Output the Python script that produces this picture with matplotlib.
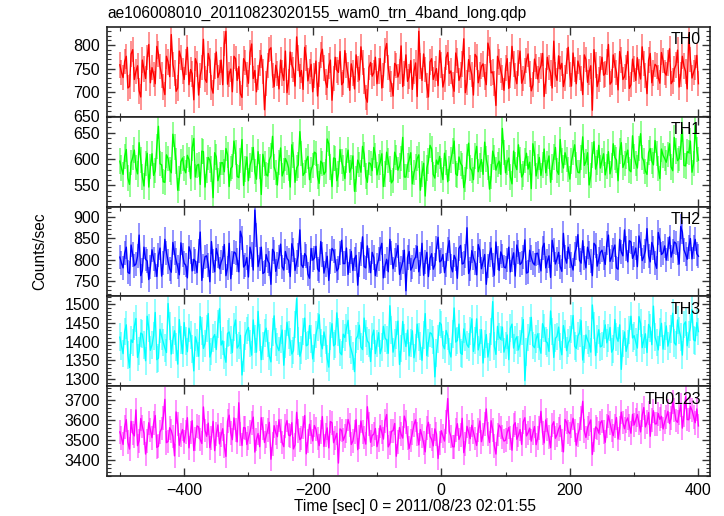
import numpy as np
import matplotlib
matplotlib.use("Agg")
import matplotlib.pyplot as plt
from matplotlib.ticker import MultipleLocator

plt.rcParams['font.family'] = ['Liberation Sans', 'DejaVu Sans']

# time bins: main points every 5 s from -500 to 400, "mid" points halfway between
t0 = -500.0
dt = 5.0

th0 = [758, 731, 776, 712, 790, 744, 703, 768, 729, 801,
       752, 718, 781, 736, 695, 764, 822, 741, 709, 773,
       727, 795, 748, 684, 760, 735, 812, 721, 767, 698,
       785, 742, 716, 829, 738, 701, 771, 754, 689, 763,
       719, 802, 746, 731, 778, 663, 757, 794, 712, 740,
       768, 725, 699, 785, 748, 817, 733, 706, 772, 744,
       701, 766, 738, 791, 722, 755, 683, 774, 742, 716,
       788, 736, 760, 707, 749, 796, 724, 679, 763, 741,
       718, 771, 735, 803, 728, 692, 757, 744, 712, 779,
       733, 706, 762, 829, 725, 748, 690, 771, 739, 714,
       758, 727, 784, 745, 702, 767, 736, 813, 721, 752,
       694, 775, 738, 760, 716, 789, 743, 672, 764, 731,
       751, 708, 797, 734, 762, 719, 745, 781, 703, 770,
       728, 756, 691, 774, 741, 808, 725, 749, 712, 766,
       737, 783, 718, 752, 695, 769, 743, 662, 758, 727,
       774, 739, 801, 722, 757, 705, 768, 733, 786, 716,
       749, 773, 728, 761, 697, 782, 741, 755, 719, 767,
       736, 792, 724, 758, 711, 776, 744, 823, 730, 752,
       718]
th0_mid = [742, 765, 709, 781, 727, 756, 690, 749, 773, 720,
           738, 797, 754, 711, 776, 733, 759, 702, 787, 745,
           764, 716, 739, 771, 694, 752, 728, 782, 710, 756,
           731, 768, 803, 717, 749, 776, 725, 697, 771, 738,
           784, 729, 701, 762, 744, 718, 790, 735, 757, 707,
           741, 787, 722, 758, 713, 772, 746, 795, 724, 759,
           735, 692, 779, 751, 710, 768, 729, 747, 786, 721,
           757, 704, 741, 779, 726, 763, 689, 752, 734, 774,
           745, 709, 788, 752, 717, 761, 732, 798, 740, 723,
           767, 744, 691, 756, 781, 714, 764, 727, 750, 788,
           711, 773, 740, 716, 783, 725, 760, 699, 769, 737,
           780, 720, 755, 732, 804, 741, 718, 776, 746, 704,
           771, 736, 760, 718, 787, 729, 767, 739, 716, 754,
           747, 782, 724, 752, 709, 738, 777, 761, 730, 795,
           713, 748, 766, 729, 779, 721, 756, 790, 712, 749,
           736, 764, 717, 779, 742, 786, 727, 752, 708, 770,
           725, 744, 796, 735, 768, 720, 759, 731, 784, 742,
           762, 718, 749, 789, 737, 755, 707, 769, 742, 778]

th1 = [596, 571, 618, 552, 603, 584, 631, 566, 592, 547,
       610, 578, 662, 589, 556, 601, 574, 623, 541, 595,
       582, 607, 563, 639, 588, 552, 614, 579, 598, 527,
       604, 571, 593, 620, 548, 586, 612, 565, 637, 581,
       559, 599, 576, 614, 533, 592, 568, 606, 585, 551,
       621, 578, 594, 547, 608, 583, 652, 569, 597, 561,
       588, 611, 554, 592, 576, 629, 548, 601, 572, 595,
       563, 617, 584, 539, 598, 575, 609, 556, 591, 622,
       570, 594, 548, 613, 581, 560, 603, 587, 641, 566,
       599, 553, 585, 608, 572, 530, 596, 619, 564, 590,
       578, 611, 557, 598, 634, 569, 592, 546, 605, 583,
       561, 624, 588, 571, 600, 543, 615, 579, 596, 658,
       574, 602, 553, 589, 627, 566, 597, 581, 544, 610,
       586, 569, 619, 592, 556, 604, 578, 637, 583, 599,
       562, 612, 589, 574, 642, 595, 551, 608, 581, 626,
       597, 570, 614, 588, 603, 559, 631, 592, 617, 576,
       605, 583, 648, 596, 571, 620, 589, 611, 563, 607,
       594, 629, 578, 615, 601, 656, 587, 612, 575, 664,
       598]
th1_mid = [583, 605, 564, 593, 617, 572, 598, 549, 611, 586,
           569, 624, 591, 557, 608, 580, 647, 596, 563, 602,
           574, 599, 621, 566, 590, 615, 547, 603, 581, 612,
           559, 593, 576, 608, 582, 634, 567, 597, 550, 604,
           588, 622, 562, 586, 609, 571, 598, 643, 575, 594,
           568, 601, 583, 627, 556, 589, 611, 574, 605, 579,
           613, 567, 596, 571, 638, 585, 602, 559, 618, 583,
           597, 575, 606, 562, 590, 624, 568, 593, 578, 607,
           585, 610, 572, 597, 555, 613, 579, 601, 566, 588,
           612, 574, 601, 541, 592, 583, 626, 571, 598, 605,
           561, 594, 582, 615, 572, 604, 587, 561, 630, 578,
           606, 576, 599, 632, 584, 567, 603, 590, 571, 612,
           593, 566, 615, 580, 598, 572, 611, 594, 629, 568,
           603, 589, 574, 606, 585, 622, 571, 597, 612, 580,
           596, 627, 575, 603, 588, 612, 569, 633, 594, 583,
           610, 586, 572, 629, 598, 615, 584, 606, 579, 644,
           592, 620, 603, 577, 612, 596, 635, 582, 619, 601,
           609, 585, 641, 597, 623, 588, 614, 634, 592, 618]

th2 = [806, 781, 829, 768, 812, 790, 857, 775, 801, 754,
       823, 788, 810, 762, 847, 796, 771, 815, 783, 839,
       792, 758, 818, 801, 770, 864, 786, 809, 749, 797,
       826, 779, 804, 763, 838, 792, 815, 772, 851, 788,
       760, 812, 915, 784, 829, 771, 798, 743, 817, 790,
       836, 776, 803, 761, 822, 794, 869, 782, 808, 757,
       799, 831, 773, 812, 789, 752, 826, 797, 780, 845,
       791, 766, 819, 802, 741, 813, 784, 832, 770, 805,
       787, 824, 758, 801, 847, 779, 810, 766, 795, 728,
       819, 783, 806, 772, 838, 795, 761, 814, 788, 852,
       798, 770, 825, 785, 810, 757, 833, 792, 874, 779,
       804, 765, 821, 796, 743, 812, 787, 841, 775, 808,
       781, 829, 799, 762, 817, 793, 846, 771, 805, 788,
       815, 774, 838, 797, 759, 823, 802, 784, 861, 792,
       809, 776, 827, 799, 844, 781, 816, 763, 833, 801,
       822, 789, 857, 806, 834, 778, 818, 869, 795, 841,
       812, 784, 836, 807, 872, 795, 828, 780, 846, 816,
       799, 853, 821, 838, 790, 864, 813, 830, 802, 847,
       808]
th2_mid = [792, 815, 771, 834, 786, 808, 763, 829, 797, 783,
           802, 761, 827, 793, 816, 779, 840, 798, 765, 811,
           787, 830, 774, 796, 821, 752, 807, 788, 842, 772,
           809, 794, 835, 781, 756, 818, 799, 866, 783, 805,
           829, 776, 857, 802, 768, 812, 791, 824, 773, 806,
           784, 819, 798, 837, 775, 810, 788, 814, 767, 826,
           803, 779, 842, 769, 808, 796, 821, 774, 815, 791,
           827, 797, 775, 810, 789, 853, 781, 798, 817, 763,
           801, 838, 786, 772, 815, 799, 833, 781, 822, 805,
           776, 799, 831, 790, 764, 817, 803, 778, 826, 795,
           812, 788, 844, 772, 801, 826, 790, 809, 768, 821,
           793, 835, 779, 812, 786, 827, 764, 803, 818, 783,
           799, 772, 816, 834, 789, 806, 769, 822, 793, 814,
           797, 828, 781, 809, 845, 790, 817, 773, 806, 829,
           789, 814, 858, 792, 803, 829, 797, 838, 785, 817,
           804, 838, 796, 823, 781, 847, 809, 826, 844, 803,
           827, 855, 798, 821, 809, 840, 793, 863, 812, 832,
           824, 806, 841, 816, 877, 823, 801, 849, 829, 814]

th3 = [1412, 1368, 1445, 1331, 1398, 1462, 1375, 1420, 1349, 1437,
       1391, 1478, 1356, 1414, 1383, 1502, 1367, 1429, 1340, 1405,
       1451, 1373, 1418, 1322, 1396, 1467, 1382, 1435, 1359, 1410,
       1379, 1488, 1402, 1345, 1426, 1371, 1458, 1390, 1311, 1416,
       1438, 1364, 1407, 1481, 1352, 1423, 1395, 1346, 1469, 1386,
       1408, 1337, 1452, 1399, 1376, 1515, 1361, 1427, 1389, 1443,
       1354, 1419, 1472, 1381, 1404, 1332, 1448, 1393, 1426, 1365,
       1411, 1457, 1378, 1320, 1415, 1386, 1463, 1402, 1347, 1431,
       1395, 1368, 1441, 1404, 1496, 1372, 1418, 1339, 1454, 1387,
       1362, 1429, 1383, 1412, 1350, 1475, 1397, 1421, 1306, 1408,
       1446, 1381, 1416, 1359, 1490, 1403, 1370, 1434, 1392, 1428,
       1374, 1461, 1398, 1343, 1419, 1385, 1507, 1366, 1413, 1439,
       1390, 1352, 1447, 1405, 1378, 1428, 1296, 1411, 1465, 1384,
       1421, 1369, 1436, 1397, 1482, 1358, 1414, 1387, 1443, 1376,
       1405, 1470, 1382, 1424, 1351, 1418, 1395, 1498, 1363, 1432,
       1389, 1445, 1410, 1372, 1459, 1401, 1326, 1426, 1393, 1468,
       1416, 1383, 1449, 1404, 1371, 1437, 1495, 1398, 1425, 1380,
       1442, 1408, 1476, 1391, 1430, 1364, 1453, 1419, 1486, 1402,
       1427]
th3_mid = [1389, 1427, 1364, 1405, 1441, 1358, 1423, 1392, 1468, 1377,
           1416, 1352, 1433, 1398, 1371, 1442, 1405, 1386, 1459, 1368,
           1402, 1436, 1380, 1413, 1361, 1428, 1395, 1475, 1374, 1419,
           1447, 1391, 1365, 1422, 1404, 1439, 1383, 1417, 1357, 1430,
           1395, 1458, 1372, 1411, 1388, 1436, 1362, 1425, 1399, 1376,
           1431, 1394, 1418, 1367, 1446, 1401, 1378, 1463, 1392, 1408,
           1383, 1440, 1397, 1426, 1355, 1415, 1389, 1477, 1371, 1420,
           1436, 1393, 1361, 1408, 1444, 1379, 1422, 1396, 1414, 1368,
           1424, 1385, 1410, 1369, 1431, 1397, 1455, 1382, 1409, 1431,
           1396, 1357, 1447, 1388, 1418, 1363, 1424, 1405, 1370, 1451,
           1391, 1430, 1374, 1420, 1399, 1447, 1366, 1412, 1385, 1461,
           1403, 1378, 1432, 1394, 1359, 1427, 1388, 1441, 1406, 1372,
           1418, 1436, 1383, 1413, 1395, 1459, 1372, 1429, 1390, 1407,
           1387, 1448, 1401, 1374, 1427, 1409, 1439, 1365, 1420, 1397,
           1433, 1388, 1415, 1456, 1381, 1404, 1372, 1443, 1408, 1386,
           1421, 1397, 1438, 1381, 1412, 1445, 1395, 1374, 1431, 1410,
           1399, 1467, 1384, 1421, 1446, 1392, 1412, 1378, 1449, 1415,
           1388, 1433, 1397, 1458, 1413, 1446, 1389, 1438, 1405, 1451]

th0123 = [3541, 3478, 3602, 3455, 3536, 3651, 3497, 3568, 3430, 3587,
          3512, 3623, 3469, 3558, 3704, 3493, 3547, 3421, 3579, 3526,
          3489, 3612, 3538, 3448, 3571, 3503, 3666, 3519, 3462, 3594,
          3530, 3481, 3557, 3418, 3625, 3502, 3549, 3687, 3473, 3561,
          3509, 3586, 3440, 3533, 3612, 3488, 3551, 3404, 3572, 3517,
          3544, 3467, 3598, 3521, 3456, 3639, 3502, 3563, 3431, 3579,
          3496, 3554, 3472, 3618, 3525, 3461, 3587, 3509, 3385, 3548,
          3520, 3603, 3478, 3541, 3452, 3596, 3513, 3667, 3489, 3530,
          3467, 3572, 3505, 3628, 3483, 3547, 3419, 3563, 3510, 3592,
          3458, 3534, 3602, 3476, 3521, 3441, 3589, 3503, 3556, 3408,
          3547, 3495, 3708, 3518, 3466, 3582, 3524, 3437, 3569, 3507,
          3541, 3473, 3596, 3528, 3656, 3488, 3552, 3430, 3575, 3516,
          3499, 3563, 3449, 3587, 3524, 3478, 3612, 3537, 3495, 3568,
          3510, 3644, 3486, 3553, 3462, 3592, 3527, 3573, 3441, 3588,
          3532, 3609, 3474, 3556, 3694, 3513, 3581, 3428, 3566, 3535,
          3597, 3489, 3622, 3548, 3572, 3505, 3640, 3557, 3611, 3534,
          3576, 3628, 3541, 3663, 3589, 3519, 3647, 3582, 3604, 3556,
          3615, 3583, 3691, 3598, 3634, 3560, 3718, 3602, 3649, 3587,
          3571]
th0123_mid = [3512, 3567, 3489, 3594, 3521, 3472, 3608, 3535, 3496, 3551,
              3584, 3463, 3541, 3609, 3487, 3562, 3518, 3641, 3474, 3553,
              3539, 3461, 3597, 3507, 3566, 3483, 3548, 3585, 3512, 3447,
              3576, 3524, 3468, 3594, 3536, 3611, 3491, 3529, 3563, 3478,
              3541, 3615, 3503, 3467, 3558, 3520, 3589, 3482, 3537, 3602,
              3488, 3569, 3525, 3587, 3476, 3544, 3512, 3623, 3497, 3540,
              3573, 3508, 3542, 3468, 3561, 3593, 3487, 3534, 3556, 3499,
              3547, 3574, 3495, 3602, 3516, 3542, 3480, 3579, 3523, 3558,
              3501, 3539, 3597, 3466, 3544, 3583, 3492, 3529, 3620, 3511,
              3498, 3577, 3530, 3553, 3485, 3562, 3519, 3471, 3531, 3486,
              3521, 3589, 3543, 3467, 3551, 3503, 3609, 3482, 3540, 3574,
              3508, 3551, 3492, 3580, 3530, 3597, 3471, 3528, 3563, 3495,
              3538, 3512, 3574, 3504, 3553, 3592, 3521, 3560, 3534, 3477,
              3562, 3537, 3601, 3514, 3575, 3509, 3556, 3498, 3603, 3542,
              3571, 3548, 3527, 3612, 3546, 3562, 3601, 3502, 3558, 3586,
              3541, 3569, 3586, 3522, 3613, 3559, 3588, 3594, 3573, 3629,
              3601, 3587, 3624, 3566, 3638, 3602, 3581, 3633, 3619, 3592,
              3644, 3610, 3652, 3589, 3676, 3625, 3603, 3668, 3617, 3656]

# typical 1-sigma error per bin for each band
errs = [27, 24, 28, 37, 60]

bands = ["TH0", "TH1", "TH2", "TH3", "TH0123"]
series = [(th0, th0_mid), (th1, th1_mid), (th2, th2_mid), (th3, th3_mid),
          (th0123, th0123_mid)]
colors = ["#ff0000", "#00ff00", "#0000ff", "#00ffff", "#ff00ff"]
ylims = [(648, 838), (510, 680), (715, 923), (1281, 1521), (3320, 3770)]
major = [50, 50, 50, 50, 100]
minor = [10, 10, 10, 10, 20]

fig = plt.figure(figsize=(7.24, 5.16), dpi=100)
left, right = 107 / 724, 710 / 724
top, bottom = 1 - 27 / 516, 1 - 476 / 516
h = (top - bottom) / 5

for i, (name, (ya, yb), c) in enumerate(zip(bands, series, colors)):
    ax = fig.add_axes([left, top - (i + 1) * h, right - left, h])
    # interleave main and half-bin points
    y = np.empty(len(ya) + len(yb))
    y[0::2] = ya
    y[1::2] = yb
    t = t0 + dt / 2 * np.arange(len(y))
    ax.vlines(t, y - errs[i], y + errs[i], color=c, alpha=0.5, lw=1.2)
    ax.plot(t, y, color=c, lw=1.0)
    ax.set_xlim(-520, 418)
    ax.set_ylim(*ylims[i])
    ax.xaxis.set_major_locator(MultipleLocator(200))
    ax.xaxis.set_minor_locator(MultipleLocator(100))
    ax.yaxis.set_major_locator(MultipleLocator(major[i]))
    ax.yaxis.set_minor_locator(MultipleLocator(minor[i]))
    ax.tick_params(which='both', direction='in', top=True, right=True,
                   labelsize=11.5, color='#333333', pad=5)
    ax.tick_params(which='major', length=6, width=1)
    ax.tick_params(which='minor', length=3, width=0.8)
    for s in ax.spines.values():
        s.set_linewidth(1.2)
        s.set_color('#222222')
    if i < 4:
        ax.tick_params(labelbottom=False)
    ax.text(0.985, 0.94, name, transform=ax.transAxes, ha='right', va='top',
            fontsize=11.5)

fig.text(left, 1 - 13 / 516, "ae106008010_20110823020155_wam0_trn_4band_long.qdp",
         ha='left', va='center', fontsize=11.2)
fig.text(40 / 724, (top + bottom) / 2, "Counts/sec", rotation=90,
         ha='center', va='center', fontsize=11.2)
fig.text(415 / 724, 1 - 507 / 516, "Time [sec] 0 = 2011/08/23 02:01:55",
         ha='center', va='center', fontsize=11.2)

fig.savefig("out.png", dpi=100)
